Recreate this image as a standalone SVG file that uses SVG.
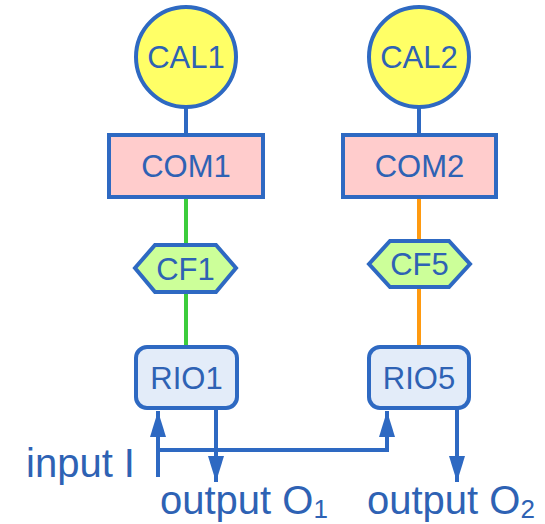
<svg xmlns="http://www.w3.org/2000/svg" width="545" height="524" viewBox="0 0 545 524">
<defs>
<style>
.s{stroke:#2e69c2;stroke-width:4}
.t{font-family:"Liberation Sans",Arial,sans-serif;font-size:31px;fill:#2e62b4;text-anchor:middle}
.lbl{font-family:"Liberation Sans",Arial,sans-serif;font-size:40px;fill:#2e62b4}
.c{fill:none;stroke-width:4}
</style>
<marker id="ah" markerWidth="26" markerHeight="16" refX="26" refY="8" viewBox="0 0 26 16" orient="auto" markerUnits="userSpaceOnUse">
<path d="M0,0 L26,8 L0,16 Z" fill="#2e69c2"/>
</marker>
</defs>
<rect width="545" height="524" fill="#ffffff"/>
<g id="connectors">
<line class="c" x1="186" y1="107" x2="186" y2="135" stroke="#2e69c2"/>
<line class="c" x1="419" y1="107" x2="419" y2="135" stroke="#2e69c2"/>
<line class="c" x1="186" y1="197" x2="186" y2="245" stroke="#3ccc3c"/>
<line class="c" x1="186" y1="292" x2="186" y2="347" stroke="#3ccc3c"/>
<line class="c" x1="419" y1="197" x2="419" y2="241" stroke="#ff9a10"/>
<line class="c" x1="419" y1="287" x2="419" y2="347" stroke="#ff9a10"/>
<line class="c" x1="158" y1="477" x2="158" y2="411" stroke="#2e69c2" marker-end="url(#ah)"/>
<polyline class="c" points="158,450 387,450 387,411" stroke="#2e69c2" marker-end="url(#ah)"/>
<line class="c" x1="216" y1="408" x2="216" y2="482" stroke="#2e69c2" marker-end="url(#ah)"/>
<line class="c" x1="457" y1="408" x2="457" y2="482" stroke="#2e69c2" marker-end="url(#ah)"/>
</g>
<g id="CAL1"><circle class="s" cx="186" cy="57" r="50" fill="#ffff66"/><text class="t" x="186" y="68">CAL1</text></g>
<g id="CAL2"><circle class="s" cx="419" cy="57" r="50" fill="#ffff66"/><text class="t" x="419" y="68">CAL2</text></g>
<g id="COM1"><rect class="s" x="109" y="135" width="154" height="62" fill="#ffcccc"/><text class="t" x="186" y="177">COM1</text></g>
<g id="COM2"><rect class="s" x="343" y="135" width="153" height="62" fill="#ffcccc"/><text class="t" x="419.5" y="177">COM2</text></g>
<g id="CF1"><polygon class="s" points="135,268 155,245 216,245 236,268 216,292 155,292" fill="#ccff99"/><text class="t" x="185.5" y="280">CF1</text></g>
<g id="CF5"><polygon class="s" points="369,264 390,241 449,241 470,264 449,287 390,287" fill="#ccff99"/><text class="t" x="419.5" y="275">CF5</text></g>
<g id="RIO1"><rect class="s" x="136" y="347" width="101" height="61" rx="11" fill="#e3ecf9"/><text class="t" x="186.5" y="389">RIO1</text></g>
<g id="RIO5"><rect class="s" x="369" y="347" width="100" height="61" rx="11" fill="#e3ecf9"/><text class="t" x="419" y="389">RIO5</text></g>
<g id="labels">
<text class="lbl" x="26" y="477" font-size="41">input I</text>
<text class="lbl" x="160" y="514">output O<tspan font-size="26" dy="4">1</tspan></text>
<text class="lbl" x="367" y="514">output O<tspan font-size="26" dy="4">2</tspan></text>
</g>
</svg>
